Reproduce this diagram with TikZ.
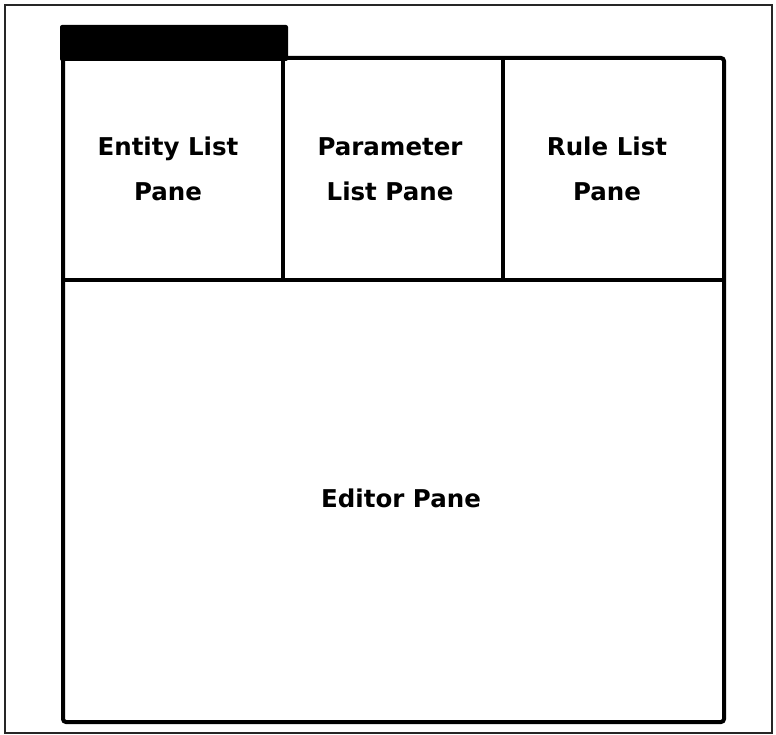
\documentclass[tikz,border=0pt]{standalone}
\usepackage{fontspec}
\setmainfont{DejaVu Sans}
\begin{document}
\begin{tikzpicture}[x=1pt,y=-1pt,
  frame/.style={draw=black,line width=4pt},
  outerframe/.style={draw=black!85,line width=2pt},
  label/.style={font=\bfseries\fontsize{24.5}{45}\selectfont,align=center,anchor=base,inner sep=0pt}]
\useasboundingbox (0,0) rectangle (776,735);
\draw[outerframe] (5,5) rectangle (772,733);
% title tab
\fill[black,rounded corners=2pt] (60,25) rectangle (288,61);
% window
\draw[frame,rounded corners=3pt] (63,58) rectangle (724,722);
\draw[frame] (63,280) -- (724,280);
\draw[frame] (283,58) -- (283,280);
\draw[frame] (503,58) -- (503,280);
% labels (base anchor = baseline of last line)
\node[label] (entity) at (168,201) {Entity List\\Pane};
\node[label] (param) at (390,201) {Parameter\\List Pane};
\node[label] (rule) at (607,201) {Rule List\\Pane};
\node[label] (editor) at (401,507) {Editor Pane};
\end{tikzpicture}
\end{document}
